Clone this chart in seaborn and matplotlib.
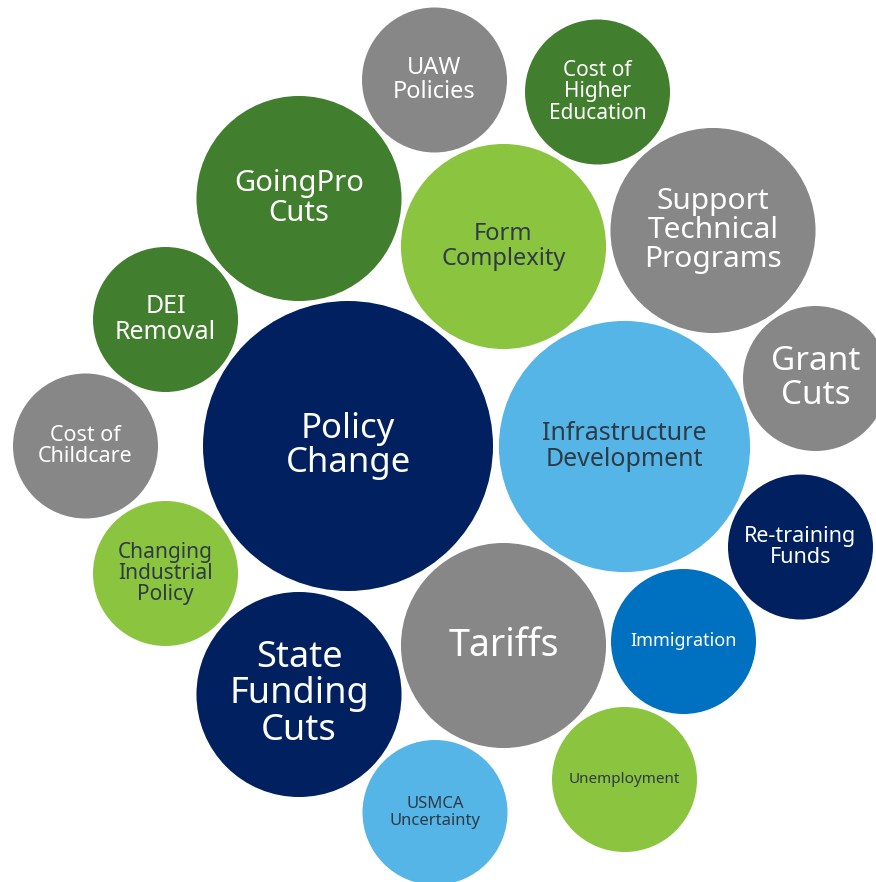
import matplotlib
matplotlib.use("Agg")
import matplotlib.pyplot as plt
import seaborn as sns
import pandas as pd

# ---- data ----
topics = ["Policy\nChange", "Infrastructure\nDevelopment", "Tariffs", "Form\nComplexity",
          "GoingPro\nCuts", "State\nFunding\nCuts", "Support\nTechnical\nPrograms",
          "UAW\nPolicies", "Cost of\nHigher\nEducation", "DEI\nRemoval", "Cost of\nChildcare",
          "Changing\nIndustrial\nPolicy", "Grant\nCuts", "Re-training\nFunds", "Immigration",
          "Unemployment", "USMCA\nUncertainty"]
weight = [4, 3, 2, 2, 2, 2, 2, 1, 1, 1, 1, 1, 1, 1, 1, 1, 1]

# ---- layout (packed bubble positions, pixel space) ----
pos_x = [348, 624.5, 503.5, 503.5, 299, 299, 713, 434.5, 597.5, 165.5, 85.5, 165.5, 815.5, 800.5, 683.5, 624.5, 435]
pos_y = [446, 446.5, 645.5, 246.5, 198.5, 694.5, 230.5, 80, 92, 319.5, 446, 573.5, 378.5, 547, 641.5, 779.5, 812.5]

# ---- styles ----
NAVY, LBLUE, GRAY, LGREEN, DGREEN, MBLUE = "#002060", "#55B5E6", "#878787", "#8BC43F", "#417E2D", "#0070C0"
colors = [NAVY, LBLUE, GRAY, LGREEN, DGREEN, NAVY, GRAY, GRAY, DGREEN, DGREEN, GRAY,
          LGREEN, GRAY, NAVY, MBLUE, LGREEN, LBLUE]
font_pt = [25, 18, 27, 17, 21, 26, 21.5, 17, 15, 18, 15.5, 15, 24, 15.5, 13, 11, 12]
DARK = "#2e3a46"
text_colors = ["white", DARK, "white", DARK, "white", "white", "white", "white", "white",
               "white", "white", DARK, "white", "white", "white", DARK, DARK]

df = pd.DataFrame({"topic": topics, "weight": weight, "x": pos_x, "y": pos_y})

W, H, DPI = 876, 882, 100
fig = plt.figure(figsize=(W / DPI, H / DPI), dpi=DPI)
ax = fig.add_axes([0, 0, 1, 1])

r1 = 72.5  # pixel radius of weight 1
s_min = (2 * r1 * 72 / DPI) ** 2
sns.scatterplot(data=df, x="x", y="y", hue="topic", size="weight",
                palette=dict(zip(topics, colors)),
                sizes=(s_min * min(weight), s_min * max(weight)),
                size_norm=(min(weight), max(weight)),
                linewidth=0, legend=False, ax=ax, zorder=2)

for t, x, y, fs, tc in zip(topics, pos_x, pos_y, font_pt, text_colors):
    ax.text(x, y, t, ha="center", va="center", fontsize=fs, color=tc,
            family="Noto Sans", linespacing=1.02, zorder=3)

ax.set_xlim(0, W)
ax.set_ylim(H, 0)
ax.axis("off")
fig.savefig("out.png", dpi=DPI, facecolor="white")
